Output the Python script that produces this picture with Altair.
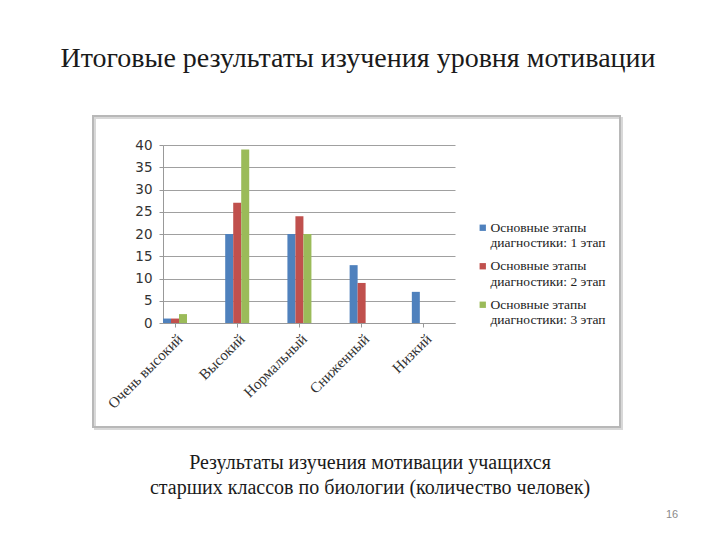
import altair as alt
import pandas as pd

categories = ["Очень высокий", "Высокий", "Нормальный", "Сниженный", "Низкий"]
series = [
    "Основные этапы\nдиагностики:  1 этап",
    "Основные этапы\nдиагностики:  2 этап",
    "Основные этапы\nдиагностики:  3 этап",
]
stage1 = [1, 20, 20, 13, 7]
stage2 = [1, 27, 24, 9, 0]
stage3 = [2, 39, 20, 0, 0]
colors = ["#4F81BD", "#C0504D", "#9BBB59"]

title_text = "Итоговые результаты изучения уровня мотивации"
caption_text = "Результаты изучения мотивации учащихся\nстарших классов по биологии (количество человек)"
page_no = "16"

SERIF = "Liberation Serif"

rows = []
for s, vals in zip(series, [stage1, stage2, stage3]):
    for c, v in zip(categories, vals):
        rows.append({"category": c, "series": s, "value": v})
df = pd.DataFrame(rows)

one = pd.DataFrame({"k": [0]})

box = alt.Chart(one).mark_rect(
    fill="transparent", stroke="#b8b8b8", strokeWidth=2
).encode(x=alt.value(-70), x2=alt.value(457), y=alt.value(-29), y2=alt.value(282))

shadow = alt.Chart(one).mark_rect(
    fill="transparent", stroke="#d8d8d8", strokeWidth=2
).encode(x=alt.value(-68), x2=alt.value(459), y=alt.value(-27), y2=alt.value(284))

bars = alt.Chart(df).mark_bar().encode(
    x=alt.X("category:N", sort=categories, title=None,
            scale=alt.Scale(paddingInner=0.614, paddingOuter=0.154, align=0),
            axis=alt.Axis(labelAngle=-45, labelFont=SERIF, labelFontSize=15,
                          labelColor="#333333", domainColor="#999999", tickColor="#999999",
                          tickSize=4, labelPadding=4, grid=False)),
    xOffset=alt.XOffset("series:N", sort=series),
    y=alt.Y("value:Q", title=None,
            scale=alt.Scale(domain=[0, 40]),
            axis=alt.Axis(values=[0, 5, 10, 15, 20, 25, 30, 35, 40], labelFont="DejaVu Sans",
                          labelFontSize=13.5, labelColor="#333333", domainColor="#999999",
                          tickColor="#999999", tickSize=4, labelPadding=7,
                          gridColor="#a0a0a0", gridWidth=1)),
    color=alt.Color("series:N", sort=series,
                    scale=alt.Scale(domain=series, range=colors),
                    legend=alt.Legend(title=None, orient="none", legendX=313, legendY=76,
                                      symbolType="square", symbolSize=40, symbolStrokeWidth=0,
                                      labelFont=SERIF, labelFontSize=13.5,
                                      labelColor="#222222", labelLimit=0,
                                      labelExpr="split(datum.label, '\\n')",
                                      labelBaseline="middle", labelOffset=1, rowPadding=8.5)),
)

title = alt.Chart(one).mark_text(
    font=SERIF, fontSize=28, color="#1a1a1a", align="center", baseline="middle",
    text=title_text
).encode(x=alt.value(195), y=alt.value(-86))

cap = alt.Chart(one).mark_text(
    font=SERIF, fontSize=20, color="#1a1a1a", align="center", baseline="middle",
    text=caption_text, lineBreak="\n", lineHeight=25
).encode(x=alt.value(207), y=alt.value(318))

page = alt.Chart(one).mark_text(
    font="Liberation Sans", fontSize=11, color="#8a8a8a", align="center", baseline="middle",
    text=page_no
).encode(x=alt.value(509), y=alt.value(370))

chart = alt.layer(shadow, box, bars, title, cap, page).properties(
    width=292, height=178,
    autosize=alt.AutoSizeParams(type="none"),
    padding={"left": 163, "top": 145, "right": 265, "bottom": 217},
    background="white",
).configure_view(stroke=None)

chart.save("out.html", embed_options={"renderer": "svg", "actions": False})
